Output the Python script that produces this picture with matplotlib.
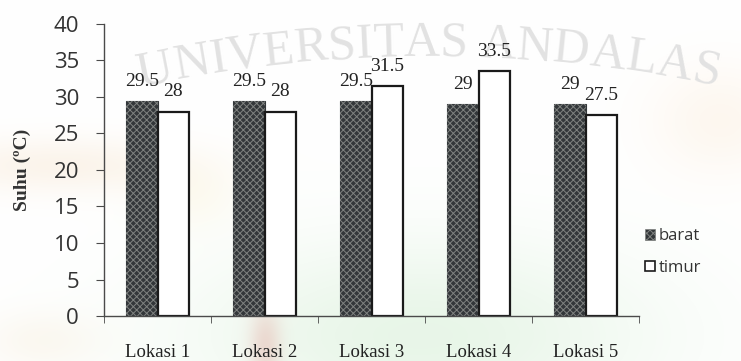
import math
import numpy as np
import matplotlib
matplotlib.use("Agg")
import matplotlib.pyplot as plt
from matplotlib.patches import Patch

locations = ["Lokasi 1", "Lokasi 2", "Lokasi 3", "Lokasi 4", "Lokasi 5"]
barat = [29.5, 29.5, 29.5, 29, 29]
timur = [28, 28, 31.5, 33.5, 27.5]
series_names = ["barat", "timur"]
watermark = "UNIVERSITAS ANDALAS"

W, H = 741, 361
fig = plt.figure(figsize=(W / 100, H / 100), dpi=100)
fig.patch.set_facecolor("white")

# soft tinted background
yy, xx = np.mgrid[0:H, 0:W].astype(float)
bg = np.ones((H, W, 3))
blobs = [
    ((420, 335), (230, 95), (0.90, 0.96, 0.90), 0.9),
    ((60, 165), (130, 28), (0.98, 0.94, 0.89), 0.7),
    ((720, 120), (70, 55), (0.99, 0.95, 0.90), 0.6),
    ((190, 195), (50, 35), (0.99, 0.97, 0.90), 0.5),
    ((265, 345), (16, 40), (0.97, 0.82, 0.82), 0.7),
    ((40, 340), (60, 30), (0.98, 0.95, 0.90), 0.5),
]
for (cx, cy), (sx, sy), col, a in blobs:
    w = a * np.exp(-(((xx - cx) / sx) ** 2 + ((yy - cy) / sy) ** 2))
    for c in range(3):
        bg[..., c] -= w * (1 - col[c])
bg = np.clip(bg, 0, 1)
fig.figimage(bg[::-1], xo=0, yo=0, zorder=-10, origin="lower")

# arched watermark lettering
widths = {"U": .72, "N": .72, "I": .33, "V": .72, "E": .61, "R": .67,
          "S": .56, "T": .61, "A": .72, "D": .72, "L": .61, " ": .25}
em = 50
x = 140
k = 3.6e-4
for ch in watermark:
    cw = widths[ch] * em
    xc = x + cw / 2
    x += cw
    if ch == " ":
        continue
    yb = 56 + k * (xc - 430) ** 2
    rot = -math.degrees(math.atan(2 * k * (xc - 430)))
    fig.text(xc / W, 1 - yb / H, ch, fontsize=36, family="Liberation Serif",
             color="#e2e2e2", ha="center", va="baseline", rotation=rot,
             rotation_mode="anchor", zorder=-5)

ax = fig.add_axes([104 / W, 1 - 316 / H, (639 - 104) / W, (316 - 24) / H])
ax.set_facecolor("none")

idx = np.arange(len(locations))
bw = 0.29
dark = "#33373a"

plt.rcParams["hatch.linewidth"] = 0.7
b1 = ax.bar(idx - bw / 2, barat, bw, color=dark, edgecolor=dark, linewidth=0.8)
ax.bar(idx - bw / 2, barat, bw, facecolor="none", edgecolor="#7f8280",
       linewidth=0, hatch="xxxxx")
b2 = ax.bar(idx + bw / 2, timur, bw, color="white", edgecolor="#1a1a1a",
            linewidth=1.6)

ax.bar_label(b1, labels=[f"{v:g}" for v in barat], padding=8,
             fontsize=14, family="Liberation Serif", color="#222222")
ax.bar_label(b2, labels=[f"{v:g}" for v in timur], padding=8,
             fontsize=14, family="Liberation Serif", color="#222222")

ax.set_xlim(-0.5, len(locations) - 0.5)
ax.set_ylim(0, 40)
ax.set_yticks(np.arange(0, 41, 5))
ax.set_xticks(idx)
ax.set_xticklabels(locations, fontsize=13.5, family="Liberation Serif",
                   color="#222222")
ax.set_xticks(np.arange(-0.5, len(locations), 1), minor=True)
ax.tick_params(axis="x", which="major", length=0, pad=20)
ax.tick_params(axis="x", which="minor", length=5, direction="out",
               color="#4a4a4a")
ax.tick_params(axis="y", length=6, direction="out", color="#4a4a4a",
               pad=12, labelsize=16, labelcolor="#333333")
for lab in ax.get_yticklabels():
    lab.set_family("Open Sans")

for s in ("top", "right"):
    ax.spines[s].set_visible(False)
for s in ("left", "bottom"):
    ax.spines[s].set_color("#4a4a4a")
    ax.spines[s].set_linewidth(1.0)

fig.text(22 / W, 1 - 170 / H, "Suhu (\u00baC)", rotation=90, fontsize=14,
         fontweight="bold", family="Liberation Serif", color="#333333",
         ha="center", va="center")

handles = [Patch(facecolor=dark, edgecolor="#7f8280", hatch="xxxxx", linewidth=0.5),
           Patch(facecolor="white", edgecolor="#1a1a1a", linewidth=1.2)]
leg = fig.legend(handles, series_names, loc="center left",
                 bbox_to_anchor=(630 / W, 1 - 252 / H), frameon=False,
                 handlelength=0.6, handleheight=0.6, handletextpad=0.2,
                 labelspacing=0.95, prop={"family": "Open Sans", "size": 12})
for t in leg.get_texts():
    t.set_color("#333333")

fig.savefig("out.png", dpi=100)
